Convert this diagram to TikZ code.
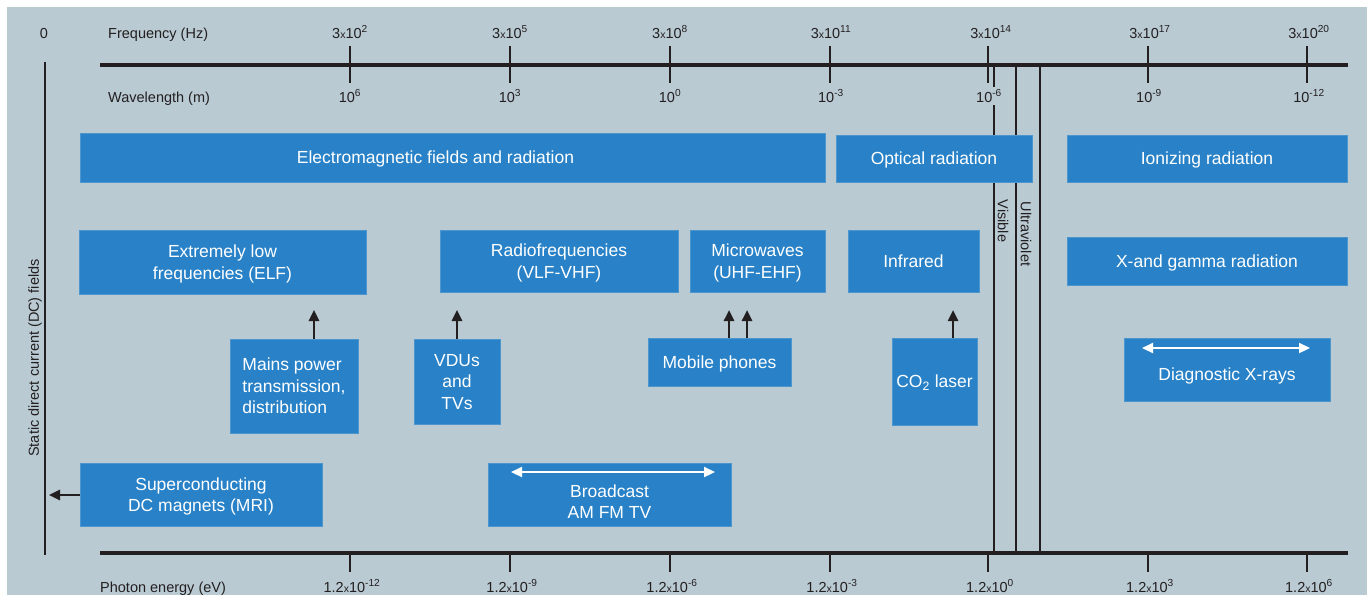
\documentclass[tikz,border=0pt]{standalone}
\usepackage{fontspec}
\setmainfont{Liberation Sans}
\usetikzlibrary{arrows.meta}
\definecolor{bg}{HTML}{B9CAD3}
\definecolor{boxblue}{HTML}{2982C7}
\definecolor{boxedge}{HTML}{4C96CD}
\definecolor{ink}{HTML}{231F20}
\newcommand{\fq}[2]{#1{\fontsize{10.5}{10}\selectfont x}10\textsuperscript{#2}}
\newcommand{\pw}[1]{10\textsuperscript{#1}}
\tikzset{
  blk/.style={fill=boxblue, draw=boxedge, line width=0.8pt, text=white,
    font=\fontsize{17.5}{21.5}\selectfont, inner sep=0pt, outer sep=0pt,
    anchor=north west, align=center, text depth=0pt},
  wtxt/.style={text=white, font=\fontsize{17.5}{21.5}\selectfont, inner sep=0pt, align=center, text depth=0pt},
  lbl/.style={text=ink, font=\fontsize{14.5}{16}\selectfont, inner sep=1pt},
  axisline/.style={line width=4pt, ink},
  tickline/.style={line width=2.5pt, ink},
  vline/.style={line width=2pt, ink},
  uparrow/.style={-{Triangle[length=11pt,width=10pt]}, line width=2.5pt, ink},
  warrow/.style={{Triangle[length=11pt,width=10pt]}-{Triangle[length=11pt,width=10pt]}, line width=2.2pt, white},
}
\begin{document}
\begin{tikzpicture}[x=1pt,y=-1pt]
\useasboundingbox (0,0) rectangle (1367,595);
\fill[white] (0,0) rectangle (1367,595);
\fill[bg] (7,7) rectangle (1367,595);

% axes
\coordinate (ta1) at (100,65); \coordinate (ta2) at (1348,65);
\coordinate (ba1) at (100,553); \coordinate (ba2) at (1348,553);
\draw[axisline] (ta1) -- (ta2);
\draw[axisline] (ba1) -- (ba2);
\foreach \x in {350,510,670,830,988,1148,1307}{
  \draw[tickline] (\x,46) -- (\x,83);
  \draw[tickline] (\x,553) -- (\x,572);
}
% left static line
\coordinate (dc1) at (45,62); \coordinate (dc2) at (45,555);
\draw[line width=2.5pt, ink] (dc1) -- (dc2);

% visible / UV lines
\coordinate (v1a) at (994,65); \coordinate (v1b) at (994,553);
\coordinate (v2a) at (1016,65); \coordinate (v2b) at (1016,553);
\coordinate (v3a) at (1040,65); \coordinate (v3b) at (1040,553);
\draw[vline] (v1a) -- (v1b);
\draw[vline] (v2a) -- (v2b);
\draw[vline] (v3a) -- (v3b);

% top labels
\node[lbl, anchor=base] (zero) at (44,38) {0};
\node[lbl, anchor=base west] (freq) at (107,38) {Frequency (Hz)};
\node[lbl, anchor=base west] (wave) at (107,102) {Wavelength (m)};
\node[lbl, anchor=base west] (phot) at (99,592) {Photon energy (eV)};

\node[lbl, anchor=base] (f1) at (350,38) {\fq{3}{2}};
\node[lbl, anchor=base] (f2) at (510,38) {\fq{3}{5}};
\node[lbl, anchor=base] (f3) at (670,38) {\fq{3}{8}};
\node[lbl, anchor=base] (f4) at (831,38) {\fq{3}{11}};
\node[lbl, anchor=base] (f5) at (991,38) {\fq{3}{14}};
\node[lbl, anchor=base] (f6) at (1150,38) {\fq{3}{17}};
\node[lbl, anchor=base] (f7) at (1309,38) {\fq{3}{20}};

\node[lbl, anchor=base] (w1) at (350,102) {\pw{6}};
\node[lbl, anchor=base] (w2) at (510,102) {\pw{3}};
\node[lbl, anchor=base] (w3) at (670,102) {\pw{0}};
\node[lbl, anchor=base] (w4) at (831,102) {\pw{-3}};
\node[lbl, anchor=base, fill=bg, inner sep=3pt] (w5) at (989,102) {\pw{-6}};
\node[lbl, anchor=base] (w6) at (1149,102) {\pw{-9}};
\node[lbl, anchor=base] (w7) at (1309,102) {\pw{-12}};

\node[lbl, anchor=base] (e1) at (352,592) {\fq{1.2}{-12}};
\node[lbl, anchor=base] (e2) at (512,592) {\fq{1.2}{-9}};
\node[lbl, anchor=base] (e3) at (672,592) {\fq{1.2}{-6}};
\node[lbl, anchor=base] (e4) at (832,592) {\fq{1.2}{-3}};
\node[lbl, anchor=base] (e5) at (990,592) {\fq{1.2}{0}};
\node[lbl, anchor=base] (e6) at (1150,592) {\fq{1.2}{3}};
\node[lbl, anchor=base] (e7) at (1309,592) {\fq{1.2}{6}};

% rotated labels
\node[lbl, rotate=90] (static) at (35,358) {Static direct current (DC) fields};
\node[lbl, rotate=-90] (visible) at (1003,221) {Visible};
\node[lbl, rotate=-90] (uv) at (1026,234) {Ultraviolet};

% boxes
\node[blk, minimum width=745pt, minimum height=49pt] (em) at (80,133) {};
\node[wtxt] (emt) at ([xshift=-17pt]em.center) {Electromagnetic fields and radiation};
\node[blk, minimum width=196pt, minimum height=47pt] (opt) at (836,135) {Optical radiation};
\node[blk, minimum width=280pt, minimum height=47pt] (ion) at (1067,135) {Ionizing radiation};
\node[blk, minimum width=287pt, minimum height=64pt] (elf) at (79,230) {Extremely low\\frequencies (ELF)};
\node[blk, minimum width=238pt, minimum height=62pt] (rf) at (440,230) {Radiofrequencies\\(VLF-VHF)};
\node[blk, minimum width=135pt, minimum height=62pt] (mw) at (690,230) {Microwaves\\(UHF-EHF)};
\node[blk, minimum width=131pt, minimum height=62pt] (ir) at (848,230) {Infrared};
\node[blk, minimum width=280pt, minimum height=48pt] (xg) at (1067,237) {X-and gamma radiation};
\node[blk, minimum width=128pt, minimum height=94pt, align=left] (mains) at (230,339) {Mains power\\transmission,\\distribution};
\node[blk, minimum width=86pt, minimum height=85pt] (vdu) at (414,339) {VDUs\\and\\TVs};
\node[blk, minimum width=143pt, minimum height=48pt] (mob) at (648,338) {Mobile phones};
\node[blk, minimum width=85pt, minimum height=87pt] (co2) at (892,338) {CO\textsubscript{2} laser};
\node[blk, minimum width=206pt, minimum height=63pt] (dx) at (1124,338) {};
\node[wtxt] (dxt) at ([yshift=-5pt]dx.center) {Diagnostic X-rays};
\node[blk, minimum width=242pt, minimum height=63pt] (sc) at (80,463) {Superconducting\\DC magnets (MRI)};
\node[blk, minimum width=243pt, minimum height=63pt] (bc) at (488,463) {};
\node[wtxt] (bct) at ([yshift=-7pt]bc.center) {Broadcast\\AM FM TV};

% arrows
\coordinate (mainsT) at (314,310);
\coordinate (vduT) at (457,310);
\coordinate (mobT1) at (729,310);
\coordinate (mobT2) at (747,310);
\coordinate (co2T) at (953,310);
\draw[uparrow] (mainsT |- mains.north) -- (mainsT);
\draw[uparrow] (vduT |- vdu.north) -- (vduT);
\draw[uparrow] (mobT1 |- mob.north) -- (mobT1);
\draw[uparrow] (mobT2 |- mob.north) -- (mobT2);
\draw[uparrow] (co2T |- co2.north) -- (co2T);
\coordinate (scT) at (49,495);
\draw[uparrow] (sc.west |- scT) -- (scT);

\coordinate (bcL) at (511,472); \coordinate (bcR) at (715,472);
\draw[warrow] (bcL) -- (bcR);
\coordinate (dxL) at (1142,348); \coordinate (dxR) at (1310,348);
\draw[warrow] (dxL) -- (dxR);
\end{tikzpicture}
\end{document}
